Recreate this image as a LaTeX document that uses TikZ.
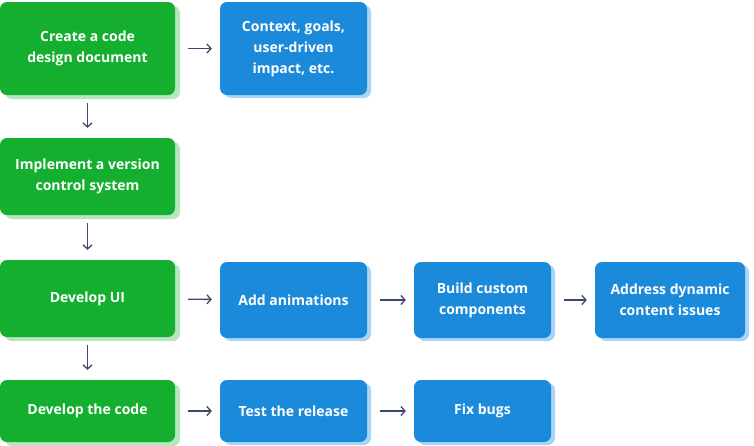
\documentclass[tikz,border=0pt]{standalone}
\usepackage{fontspec}
\setmainfont{Open Sans}
\usetikzlibrary{arrows.meta,positioning}
\definecolor{gbox}{HTML}{14AF2E}
\definecolor{gshade}{HTML}{B5E6BE}
\definecolor{bbox}{HTML}{1C8ADB}
\definecolor{bshade}{HTML}{A9D5F7}
\definecolor{arr}{HTML}{3B4A6B}
\tikzset{>={Straight Barb[length=4pt,width=9pt]}}
\tikzset{
  card/.style={rounded corners=7pt,text=white,align=center,inner sep=0pt,
    font=\fontsize{14}{21}\selectfont\bfseries},
  green card/.style={card,fill=gbox,minimum width=175pt,
    preaction={fill=gshade,transform canvas={shift={(5pt,-4pt)}}}},
  blue card/.style={card,fill=bbox,
    preaction={fill=bshade,transform canvas={shift={(4pt,-3pt)}}}},
  flow/.style={->,draw=arr,line width=1.3pt}
}
\begin{document}
\begin{tikzpicture}[x=1pt,y=-1pt]
  \useasboundingbox (0,0) rectangle (754,445);
  % left column
  \node [green card,minimum height=93pt] (design) at (87.5,48.5) {Create a code\\design document};
  \node [green card,minimum height=77pt] (vcs) at (87.5,176.5) {Implement a version\\control system};
  \node [green card,minimum height=77pt] (ui) at (87.5,298.5) {Develop UI};
  \node [green card,minimum height=62pt] (code) at (87.5,411) {Develop the code};
  % blue boxes
  \node [blue card,minimum width=147pt,minimum height=93pt] (context) at (293.5,48.5) {Context, goals,\\user-driven\\impact, etc.};
  \node [blue card,minimum width=147pt,minimum height=76pt] (anim) at (293.5,300) {Add animations};
  \node [blue card,minimum width=137pt,minimum height=76pt] (custom) at (482.5,300) {Build custom\\components};
  \node [blue card,minimum width=150pt,minimum height=76pt] (dynamic) at (670,300) {Address dynamic\\content issues};
  \node [blue card,minimum width=147pt,minimum height=62pt] (test) at (293.5,411) {Test the release};
  \node [blue card,minimum width=137pt,minimum height=62pt] (bugs) at (482.5,411) {Fix bugs};
  % connectors
  \draw [flow,shorten <=13pt,shorten >=8pt] (design) -- (context);
  \draw [flow,shorten <=13pt,shorten >=8pt] (ui) -- (anim);
  \draw [flow,shorten <=13pt,shorten >=8pt] (anim) -- (custom);
  \draw [flow,shorten <=13pt,shorten >=8pt] (custom) -- (dynamic);
  \draw [flow,shorten <=13pt,shorten >=8pt] (code) -- (test);
  \draw [flow,shorten <=13pt,shorten >=8pt] (test) -- (bugs);
  \draw [flow,shorten <=8pt,shorten >=10pt] (design) -- (vcs);
  \draw [flow,shorten <=8pt,shorten >=10pt] (vcs) -- (ui);
  \draw [flow,shorten <=8pt,shorten >=10pt] (ui) -- (code);
\end{tikzpicture}
\end{document}
